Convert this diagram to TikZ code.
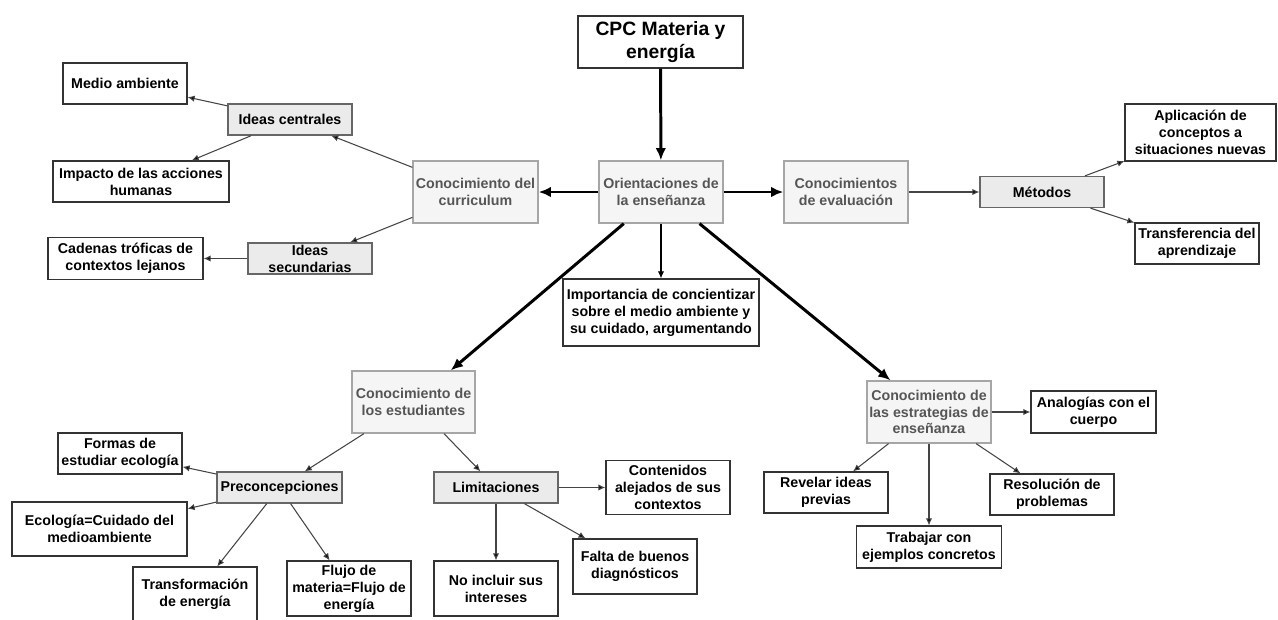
\documentclass[tikz,border=0pt]{standalone}
\usepackage{fontspec}
\setmainfont{Liberation Sans}
\usetikzlibrary{arrows.meta}
\definecolor{hubfill}{HTML}{F5F5F5}
\definecolor{hubline}{HTML}{A6A6A6}
\definecolor{hubtext}{HTML}{555555}
\definecolor{subfill}{HTML}{EBEBEB}
\definecolor{subline}{HTML}{666666}
\definecolor{linkgray}{HTML}{444444}

\begin{document}
\begin{tikzpicture}
        [x=0.02cm, y=-0.02cm, font=\bfseries\fontsize{8.1}{9.6}\selectfont,
        dims/.style 2 args={minimum width=#1*0.02cm, minimum height=#2*0.02cm},
        box/.style={draw=black!80, line width=0.7pt, fill=white, inner sep=0pt, align=center},
        hub/.style={box, draw=hubline, fill=hubfill, text=hubtext},
        sub/.style={box, draw=subline, fill=subfill},
        link/.style={draw=linkgray, line width=0.6pt, -{Latex[length=4pt,width=3.6pt]}},
        main/.style={line width=1.7pt, -{Latex[length=7pt,width=6pt]}}]
        
        \useasboundingbox (0,0) rectangle (1278,619);
        
        \node [box, dims={165}{52}, font=\bfseries\fontsize{11}{13.2}\selectfont] (cpc) at (660.5,42) {CPC Materia y\\energía};
        
        \node [hub, dims={124}{62}] (orient) at (661,192) {Orientaciones de\\la enseñanza};
        \node [hub, dims={125}{62}] (curric) at (475.5,192) {Conocimiento del\\curriculum};
        \node [hub, dims={124}{62}] (evalu)  at (846,192) {Conocimientos\\de evaluación};
        \node [hub, dims={123}{62}] (estud)  at (413.5,402) {Conocimiento de\\los estudiantes};
        \node [hub, dims={124}{62}] (estrat) at (929,412) {Conocimiento de\\las estrategias de\\enseñanza};
        
        \node [box, dims={196}{67}] (import) at (661,312.5) {Importancia de concientizar\\sobre el medio ambiente y\\su cuidado, argumentando};
        
        \node [sub, dims={124}{31}] (ideasc) at (290,119.5) {Ideas centrales};
        \node [sub, dims={124}{31}] (ideass) at (310,258.5) {Ideas\\secundarias};
        \node [box, dims={124}{41}] (medio)   at (125,83.5) {Medio ambiente};
        \node [box, dims={176}{41}] (impacto) at (141,181.5) {Impacto de las acciones\\humanas};
        \node [box, dims={155}{42}] (cadenas) at (125.5,258.5) {Cadenas tróficas de\\contextos lejanos};
        
        \node [sub, dims={124}{31}] (metodos) at (1042,192) {Métodos};
        \node [box, dims={151}{57}] (aplic)   at (1200.5,132.5) {Aplicación de\\conceptos a\\situaciones nuevas};
        \node [box, dims={124}{41}] (transf)  at (1197,243.5) {Transferencia del\\aprendizaje};
        
        \node [sub, dims={125}{31}] (precon)  at (279.5,487.5) {Preconcepciones};
        \node [box, dims={124}{41}] (formas)  at (120,453.5) {Formas de\\estudiar ecología};
        \node [box, dims={175}{54}] (ecolog)  at (99.5,529) {Ecología=Cuidado del\\medioambiente};
        \node [box, dims={124}{55}] (transfo) at (195,594.5) {Transformación\\de energía};
        \node [box, dims={124}{55}] (flujo)   at (349,588.5) {Flujo de\\materia=Flujo de\\energía};
        
        \node [sub, dims={124}{31}] (limit)   at (496,487.5) {Limitaciones};
        \node [box, dims={124}{54}] (conten)  at (668,487.5) {Contenidos\\alejados de sus\\contextos};
        \node [box, dims={124}{55}] (noincl)  at (496,588.5) {No incluir sus\\intereses};
        \node [box, dims={124}{55}] (falta)   at (635,566.5) {Falta de buenos\\diagnósticos};
        
        \node [box, dims={125}{42}] (analog)   at (1093.5,412) {Analogías con el\\cuerpo};
        \node [box, dims={124}{41}] (revelar)  at (826,492.5) {Revelar ideas\\previas};
        \node [box, dims={145}{42}] (trabajar) at (929,547) {Trabajar con\\ejemplos concretos};
        \node [box, dims={124}{41}] (resol)    at (1052,494.5) {Resolución de\\problemas};
        
        \draw[main] (cpc) edge (orient);
        \draw[main] (orient) edge (curric);
        \draw[main] (orient) edge (evalu);
        \draw[main] (orient) edge (estud);
        \draw[main] (orient) edge (estrat);
        \draw[link, draw=black] (orient) edge (import);
        
        \draw[link] (curric) edge (ideasc);
        \draw[link] (curric) edge (ideass);
        \draw[link] (ideasc) edge (medio);
        \draw[link] (ideasc) edge (impacto);
        \draw[link] (ideass) edge (cadenas);
        
        \draw[link] (evalu) edge (metodos);
        \draw[link] (metodos) edge (aplic);
        \draw[link] (metodos) edge (transf);
        
        \draw[link] (estud) edge (precon);
        \draw[link] (estud) edge (limit);
        \draw[link] (precon) edge (formas);
        \draw[link] (precon) edge (ecolog);
        \draw[link] (precon) edge (transfo);
        \draw[link] (precon) edge (flujo);
        \draw[link] (limit) edge (conten);
        \draw[link] (limit) edge (noincl);
        \draw[link] (limit) edge (falta);
        
        \draw[link] (estrat) edge (analog);
        \draw[link] (estrat) edge (revelar);
        \draw[link] (estrat) edge (trabajar);
        \draw[link] (estrat) edge (resol);
        
        \end{tikzpicture}
\end{document}
